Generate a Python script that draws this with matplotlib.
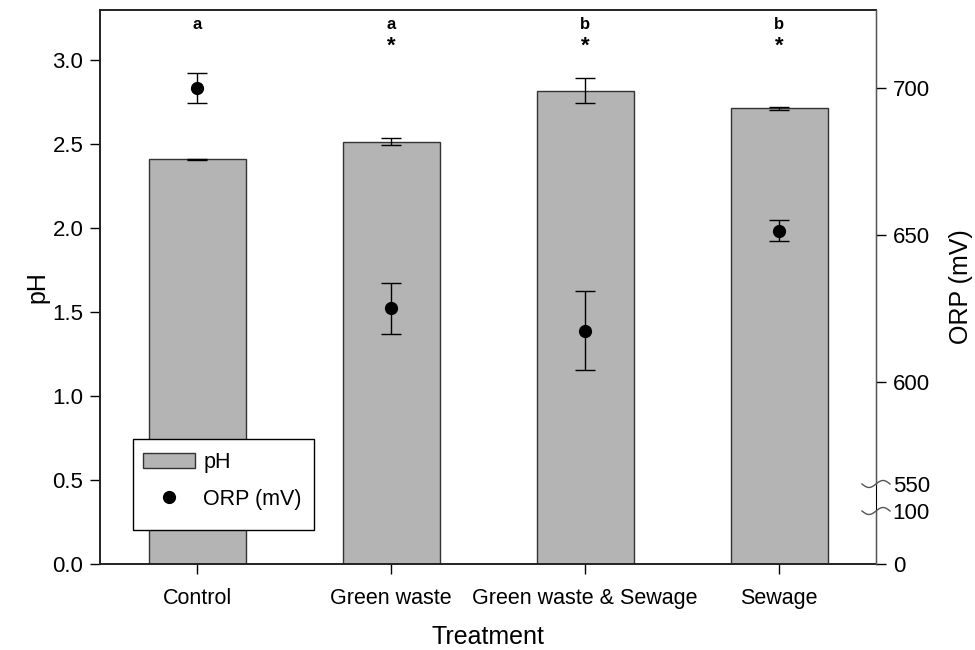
import numpy as np
import matplotlib
matplotlib.use("Agg")
import matplotlib.pyplot as plt
from matplotlib.lines import Line2D
from matplotlib.patches import Patch, Rectangle
from matplotlib.transforms import IdentityTransform

plt.rcParams["font.family"] = ["Liberation Sans", "DejaVu Sans"]

treatments = ["Control", "Green waste", "Green waste & Sewage", "Sewage"]
ph_mean = [2.41, 2.515, 2.82, 2.715]
ph_err = [0.005, 0.02, 0.075, 0.008]
orp_mean = [700.0, 625.0, 617.5, 651.5]
orp_err = [5.0, 8.8, 13.4, 3.7]
letters = ["a", "a", "b", "b"]
stars = ["", "*", "*", "*"]

# right axis is broken between 100 and 550 mV -> piecewise linear scale
brk_v = [0, 100, 550, 600, 750]
brk_u = [0, 53, 80, 182, 623]


def fwd(v):
    return np.interp(v, brk_v, brk_u)


def inv(u):
    return np.interp(u, brk_u, brk_v)


fig = plt.figure(figsize=(9.75, 6.5), dpi=100)
ax = fig.add_axes([100 / 975, 86 / 650, 776 / 975, 554 / 650])
x = np.arange(len(treatments))

ax.bar(x, ph_mean, width=0.5, color="#b4b4b4", edgecolor="#333333", linewidth=1.0, zorder=2)
ax.errorbar(x, ph_mean, yerr=ph_err, fmt="none", ecolor="black", elinewidth=1.0,
            capsize=7, capthick=1.0, zorder=3)
ax.set_xlim(-0.5, 3.5)
ax.set_ylim(0, 3.3)
ax.set_yticks(np.arange(0, 3.01, 0.5))
ax.set_yticklabels([f"{v:.1f}" for v in np.arange(0, 3.01, 0.5)])
ax.set_xticks(x)
ax.set_xticklabels(treatments)
ax.tick_params(axis="both", direction="out", length=7, width=1, labelsize=16, colors="black")
ax.tick_params(axis="y", pad=5)
ax.tick_params(axis="x", pad=10, labelsize=15.5)
ax.set_ylabel("pH", fontsize=18, labelpad=2)
ax.set_xlabel("Treatment", fontsize=18, labelpad=12)
for s in ["left", "bottom", "top"]:
    ax.spines[s].set_linewidth(1.4)
    ax.spines[s].set_color("#222222")

for i in range(len(treatments)):
    ax.text(x[i], 3.215, letters[i], ha="center", va="center", fontsize=12,
            fontweight="bold")
    if stars[i]:
        ax.text(x[i], 3.085, stars[i], ha="center", va="center", fontsize=16,
                fontweight="bold")

ax2 = ax.twinx()
ax2.set_yscale("function", functions=(fwd, inv))
ax2.errorbar(x, orp_mean, yerr=orp_err, fmt="o", color="black", markersize=8.5,
             ecolor="black", elinewidth=1.0, capsize=7, capthick=1.0, zorder=4)
ax2.set_ylim(0, 726.5)
ax2.set_xlim(-0.5, 3.5)
orp_ticks = [0, 100, 550, 600, 650, 700]
ax2.set_yticks(orp_ticks)
ax2.set_yticklabels([str(t) for t in orp_ticks])
ax2.yaxis.set_minor_locator(plt.NullLocator())
ax2.tick_params(axis="y", direction="out", length=7, width=1, labelsize=16,
                pad=5, colors="black")
for i, t in enumerate(ax2.yaxis.get_major_ticks()):
    if orp_ticks[i] in (100, 550):
        t.tick2line.set_visible(False)
ax2.set_ylabel("ORP (mV)", fontsize=18, labelpad=14)
for s in ["right", "top", "left", "bottom"]:
    ax2.spines[s].set_visible(False)

# right spine in two pieces around the break
ytr = ax2.get_yaxis_transform()
ax2.plot([1, 1], [0, 100], transform=ytr, color="#555555", lw=1.0, clip_on=False)
ax2.plot([1, 1], [550, 726.5], transform=ytr, color="#555555", lw=1.0, clip_on=False)

# squiggle marks at the break
xd = ax2.transAxes.transform((1, 0))[0]
t = np.linspace(-1, 1, 40)
for v in (100, 550):
    yd = ax2.transData.transform((0, v))[1]
    fig.add_artist(Line2D(xd + 14 * t, yd + 3.5 * np.sin(np.pi * t),
                          transform=IdentityTransform(), color="#555555", lw=1.0))

# legend: frameless legend inside a hand-placed box
ax2.add_patch(Rectangle((0.0425, 0.0614), 0.2332, 0.1643, transform=ax2.transAxes,
                        facecolor="white", edgecolor="black", linewidth=1.0,
                        zorder=4.5, clip_on=False))
handles = [Patch(facecolor="#b4b4b4", edgecolor="#333333", linewidth=1.0),
           Line2D([], [], marker="o", color="black", linestyle="none", markersize=8.5)]
leg = ax2.legend(handles, ["pH", "ORP (mV)"], loc="center left",
                 bbox_to_anchor=(0.0554, 0.150), borderaxespad=0, borderpad=0,
                 fontsize=15.5, frameon=False, handlelength=2.4, handleheight=0.7,
                 handletextpad=0.4, labelspacing=0.75)
leg.set_zorder(5)

fig.savefig("out.png", dpi=100)
